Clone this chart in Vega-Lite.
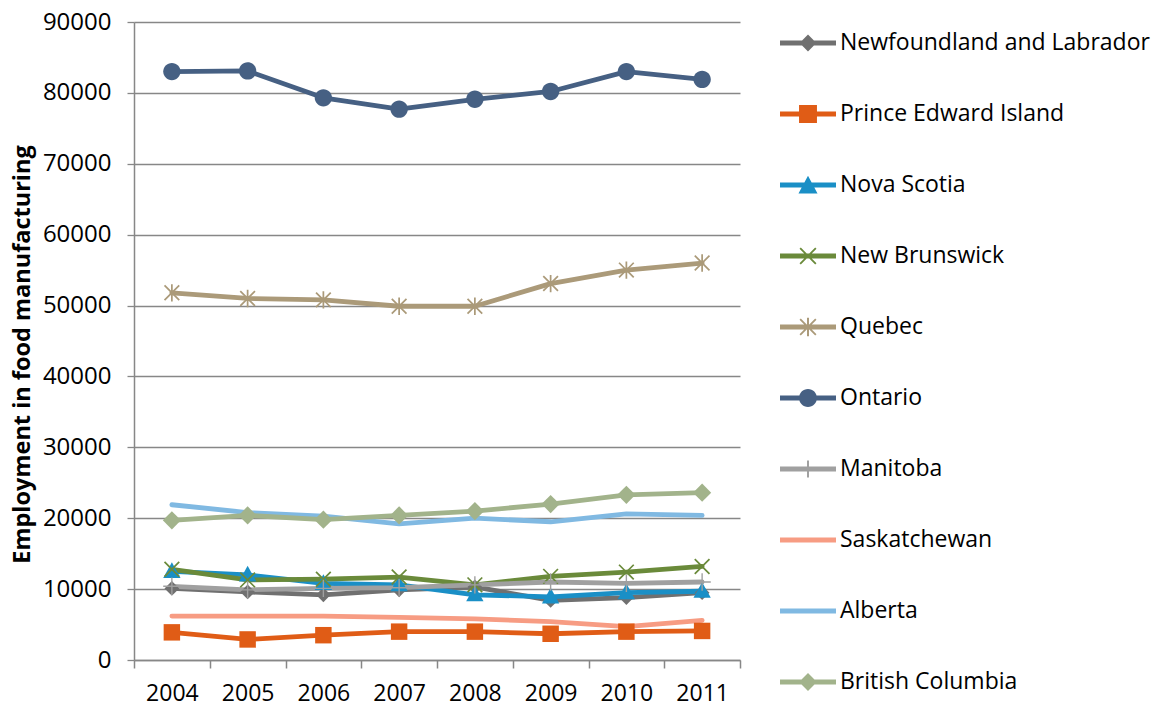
{
  "$schema": "https://vega.github.io/schema/vega-lite/v6.json",
  "width": 606,
  "height": 638,
  "autosize": {"type": "none"},
  "padding": {"left": 134, "top": 22, "right": 416, "bottom": 47},
  "background": "white",
  "config": {
    "view": {"stroke": null},
    "font": "Open Sans",
    "axis": {"labelFont": "Open Sans", "titleFont": "Open Sans"}
  },
  "data": {
    "values": [
      {"province": "Newfoundland and Labrador", "year": "2004", "value": 10100},
      {"province": "Newfoundland and Labrador", "year": "2005", "value": 9600},
      {"province": "Newfoundland and Labrador", "year": "2006", "value": 9200},
      {"province": "Newfoundland and Labrador", "year": "2007", "value": 9900},
      {"province": "Newfoundland and Labrador", "year": "2008", "value": 10300},
      {"province": "Newfoundland and Labrador", "year": "2009", "value": 8400},
      {"province": "Newfoundland and Labrador", "year": "2010", "value": 8800},
      {"province": "Newfoundland and Labrador", "year": "2011", "value": 9500},
      {"province": "Prince Edward Island", "year": "2004", "value": 3900},
      {"province": "Prince Edward Island", "year": "2005", "value": 2900},
      {"province": "Prince Edward Island", "year": "2006", "value": 3500},
      {"province": "Prince Edward Island", "year": "2007", "value": 4000},
      {"province": "Prince Edward Island", "year": "2008", "value": 4000},
      {"province": "Prince Edward Island", "year": "2009", "value": 3700},
      {"province": "Prince Edward Island", "year": "2010", "value": 4000},
      {"province": "Prince Edward Island", "year": "2011", "value": 4100},
      {"province": "Nova Scotia", "year": "2004", "value": 12500},
      {"province": "Nova Scotia", "year": "2005", "value": 12000},
      {"province": "Nova Scotia", "year": "2006", "value": 10800},
      {"province": "Nova Scotia", "year": "2007", "value": 10600},
      {"province": "Nova Scotia", "year": "2008", "value": 9200},
      {"province": "Nova Scotia", "year": "2009", "value": 8900},
      {"province": "Nova Scotia", "year": "2010", "value": 9500},
      {"province": "Nova Scotia", "year": "2011", "value": 9700},
      {"province": "New Brunswick", "year": "2004", "value": 12800},
      {"province": "New Brunswick", "year": "2005", "value": 11300},
      {"province": "New Brunswick", "year": "2006", "value": 11400},
      {"province": "New Brunswick", "year": "2007", "value": 11700},
      {"province": "New Brunswick", "year": "2008", "value": 10600},
      {"province": "New Brunswick", "year": "2009", "value": 11800},
      {"province": "New Brunswick", "year": "2010", "value": 12400},
      {"province": "New Brunswick", "year": "2011", "value": 13200},
      {"province": "Quebec", "year": "2004", "value": 51800},
      {"province": "Quebec", "year": "2005", "value": 51000},
      {"province": "Quebec", "year": "2006", "value": 50800},
      {"province": "Quebec", "year": "2007", "value": 49900},
      {"province": "Quebec", "year": "2008", "value": 49900},
      {"province": "Quebec", "year": "2009", "value": 53100},
      {"province": "Quebec", "year": "2010", "value": 55000},
      {"province": "Quebec", "year": "2011", "value": 56000},
      {"province": "Ontario", "year": "2004", "value": 83000},
      {"province": "Ontario", "year": "2005", "value": 83100},
      {"province": "Ontario", "year": "2006", "value": 79300},
      {"province": "Ontario", "year": "2007", "value": 77700},
      {"province": "Ontario", "year": "2008", "value": 79100},
      {"province": "Ontario", "year": "2009", "value": 80200},
      {"province": "Ontario", "year": "2010", "value": 83000},
      {"province": "Ontario", "year": "2011", "value": 81900},
      {"province": "Manitoba", "year": "2004", "value": 10400},
      {"province": "Manitoba", "year": "2005", "value": 9900},
      {"province": "Manitoba", "year": "2006", "value": 10100},
      {"province": "Manitoba", "year": "2007", "value": 10200},
      {"province": "Manitoba", "year": "2008", "value": 10600},
      {"province": "Manitoba", "year": "2009", "value": 11000},
      {"province": "Manitoba", "year": "2010", "value": 10800},
      {"province": "Manitoba", "year": "2011", "value": 11000},
      {"province": "Saskatchewan", "year": "2004", "value": 6200},
      {"province": "Saskatchewan", "year": "2005", "value": 6200},
      {"province": "Saskatchewan", "year": "2006", "value": 6200},
      {"province": "Saskatchewan", "year": "2007", "value": 6000},
      {"province": "Saskatchewan", "year": "2008", "value": 5800},
      {"province": "Saskatchewan", "year": "2009", "value": 5400},
      {"province": "Saskatchewan", "year": "2010", "value": 4700},
      {"province": "Saskatchewan", "year": "2011", "value": 5600},
      {"province": "Alberta", "year": "2004", "value": 21900},
      {"province": "Alberta", "year": "2005", "value": 20800},
      {"province": "Alberta", "year": "2006", "value": 20300},
      {"province": "Alberta", "year": "2007", "value": 19200},
      {"province": "Alberta", "year": "2008", "value": 20000},
      {"province": "Alberta", "year": "2009", "value": 19500},
      {"province": "Alberta", "year": "2010", "value": 20600},
      {"province": "Alberta", "year": "2011", "value": 20400},
      {"province": "British Columbia", "year": "2004", "value": 19700},
      {"province": "British Columbia", "year": "2005", "value": 20400},
      {"province": "British Columbia", "year": "2006", "value": 19800},
      {"province": "British Columbia", "year": "2007", "value": 20400},
      {"province": "British Columbia", "year": "2008", "value": 21000},
      {"province": "British Columbia", "year": "2009", "value": 22000},
      {"province": "British Columbia", "year": "2010", "value": 23300},
      {"province": "British Columbia", "year": "2011", "value": 23600}
    ]
  },
  "encoding": {
    "x": {
      "field": "year",
      "type": "ordinal",
      "scale": {"type": "band", "paddingInner": 0, "paddingOuter": 0},
      "axis": {
        "title": null,
        "labelAngle": 0,
        "tickBand": "extent",
        "grid": false,
        "domainColor": "#878787",
        "domainWidth": 1.5,
        "tickColor": "#878787",
        "tickWidth": 1.5,
        "tickSize": 8,
        "labelPadding": 14,
        "labelFontSize": 23,
        "labelColor": "#000000"
      }
    },
    "y": {
      "field": "value",
      "type": "quantitative",
      "scale": {"domain": [0, 90000], "nice": false},
      "axis": {
        "title": "Employment in food manufacturing",
        "values": [0, 10000, 20000, 30000, 40000, 50000, 60000, 70000, 80000, 90000],
        "format": "d",
        "grid": true,
        "gridColor": "#878787",
        "gridWidth": 1.3,
        "domainColor": "#878787",
        "domainWidth": 1.5,
        "tickColor": "#878787",
        "tickWidth": 1.3,
        "tickSize": 7,
        "labelPadding": 16,
        "labelFontSize": 24,
        "labelColor": "#000000",
        "titleFontWeight": "bold",
        "titleFontSize": 23.5,
        "titleColor": "#000000",
        "titleAngle": -90,
        "titleAlign": "center",
        "titleBaseline": "middle",
        "titleX": -112,
        "titleY": 332
      }
    }
  },
  "layer": [
    {
      "mark": {"type": "point", "filled": true, "opacity": 0},
      "encoding": {
        "color": {
          "field": "province",
          "type": "nominal",
          "scale": {
            "domain": ["Newfoundland and Labrador", "Prince Edward Island", "Nova Scotia", "New Brunswick", "Quebec", "Ontario", "Manitoba", "Saskatchewan", "Alberta", "British Columbia"],
            "range": ["#707070", "#e05c16", "#1a8fc6", "#6a8a3a", "#ab9a79", "#466083", "#a0a0a0", "#f79c83", "#80b9e2", "#a2b38b"]
          },
          "legend": {
            "title": null, "orient": "none", "legendX": 646, "legendY": -7,
            "symbolSize": 3136, "symbolStrokeWidth": 0, "symbolOpacity": 1,
            "rowPadding": 31, "labelOffset": 4, "padding": 0,
            "labelFont": "Open Sans", "labelFontSize": 23, "labelColor": "#000000",
            "labelLimit": 400, "symbolLimit": 20
          }
        },
        "shape": {
          "field": "province",
          "type": "nominal",
          "scale": {
            "domain": ["Newfoundland and Labrador", "Prince Edward Island", "Nova Scotia", "New Brunswick", "Quebec", "Ontario", "Manitoba", "Saskatchewan", "Alberta", "British Columbia"],
            "range": [
              "M-1,-0.09H1V0.09H-1ZM0,-0.3L0.3,0L0,0.3L-0.3,0Z",
              "M-1,-0.09H1V0.09H-1ZM-0.32,-0.32H0.32V0.32H-0.32Z",
              "M-1,-0.09H1V0.09H-1ZM0,-0.33L0.34,0.3L-0.34,0.3Z",
              "M-1,-0.09H1V0.09H-1ZM0.303,-0.257L0.047,0L0.303,0.257L0.257,0.303L0,0.047L-0.257,0.303L-0.303,0.257L-0.047,0L-0.303,-0.257L-0.257,-0.303L0,-0.047L0.257,-0.303Z",
              "M-1,-0.09H1V0.09H-1ZM0.303,-0.257L0.047,0L0.303,0.257L0.257,0.303L0,0.047L-0.257,0.303L-0.303,0.257L-0.047,0L-0.303,-0.257L-0.257,-0.303L0,-0.047L0.257,-0.303ZM-0.035,-0.33H0.035V0.33H-0.035Z",
              "M-1,-0.09H1V0.09H-1ZM0.32,0A0.32,0.32 0 1 1 -0.32,0A0.32,0.32 0 1 1 0.32,0Z",
              "M-1,-0.09H1V0.09H-1ZM-0.035,-0.3H0.035V0.3H-0.035Z",
              "M-1,-0.09H1V0.09H-1Z",
              "M-1,-0.09H1V0.09H-1Z",
              "M-1,-0.09H1V0.09H-1ZM0,-0.32L0.32,0L0,0.32L-0.32,0Z"
            ]
          },
          "legend": {
            "title": null, "orient": "none", "legendX": 646, "legendY": -7,
            "symbolSize": 3136, "symbolStrokeWidth": 0, "symbolOpacity": 1,
            "rowPadding": 31, "labelOffset": 4, "padding": 0,
            "labelFont": "Open Sans", "labelFontSize": 23, "labelColor": "#000000",
            "labelLimit": 400, "symbolLimit": 20
          }
        }
      }
    },
    {
      "mark": {"type": "line", "strokeWidth": 4.8, "strokeJoin": "round", "strokeCap": "round"},
      "encoding": {
        "stroke": {
          "field": "province",
          "type": "nominal",
          "scale": {
            "domain": ["Newfoundland and Labrador", "Prince Edward Island", "Nova Scotia", "New Brunswick", "Quebec", "Ontario", "Manitoba", "Saskatchewan", "Alberta", "British Columbia"],
            "range": ["#707070", "#e05c16", "#1a8fc6", "#6a8a3a", "#ab9a79", "#466083", "#a0a0a0", "#f79c83", "#80b9e2", "#a2b38b"]
          },
          "legend": null
        }
      }
    },
    {
      "transform": [{"filter": {"not": {"field": "province", "oneOf": ["Saskatchewan", "Alberta"]}}}],
      "mark": {"type": "point", "filled": true, "opacity": 1, "size": 300},
      "encoding": {
        "fill": {
          "field": "province",
          "type": "nominal",
          "scale": {
            "domain": ["Newfoundland and Labrador", "Prince Edward Island", "Nova Scotia", "New Brunswick", "Quebec", "Ontario", "Manitoba", "Saskatchewan", "Alberta", "British Columbia"],
            "range": ["#707070", "#e05c16", "#1a8fc6", "#6a8a3a", "#ab9a79", "#466083", "#a0a0a0", "#f79c83", "#80b9e2", "#a2b38b"]
          },
          "legend": null
        },
        "shape": {
          "condition": [
            {"test": "datum.province === 'Newfoundland and Labrador'", "value": "M0,-0.85L0.85,0L0,0.85L-0.85,0Z"},
            {"test": "datum.province === 'Prince Edward Island'", "value": "M-0.95,-0.95H0.95V0.95H-0.95Z"},
            {"test": "datum.province === 'Nova Scotia'", "value": "M0,-1.05L1,0.75L-1,0.75Z"},
            {"test": "datum.province === 'New Brunswick'", "value": "M0.919,-0.778L0.141,0L0.919,0.778L0.778,0.919L0,0.141L-0.778,0.919L-0.919,0.778L-0.141,0L-0.919,-0.778L-0.778,-0.919L0,-0.141L0.778,-0.919Z"},
            {"test": "datum.province === 'Quebec'", "value": "M0.919,-0.778L0.141,0L0.919,0.778L0.778,0.919L0,0.141L-0.778,0.919L-0.919,0.778L-0.141,0L-0.919,-0.778L-0.778,-0.919L0,-0.141L0.778,-0.919ZM-0.1,-1H0.1V1H-0.1Z"},
            {"test": "datum.province === 'Ontario'", "value": "M1,0A1,1 0 1 1 -1,0A1,1 0 1 1 1,0Z"},
            {"test": "datum.province === 'Manitoba'", "value": "M0.08,-1L0.08,-0.08L1,-0.08L1,0.08L0.08,0.08L0.08,1L-0.08,1L-0.08,0.08L-1,0.08L-1,-0.08L-0.08,-0.08L-0.08,-1Z"}
          ],
          "value": "M0,-1.05L1.05,0L0,1.05L-1.05,0Z"
        }
      }
    }
  ]
}
